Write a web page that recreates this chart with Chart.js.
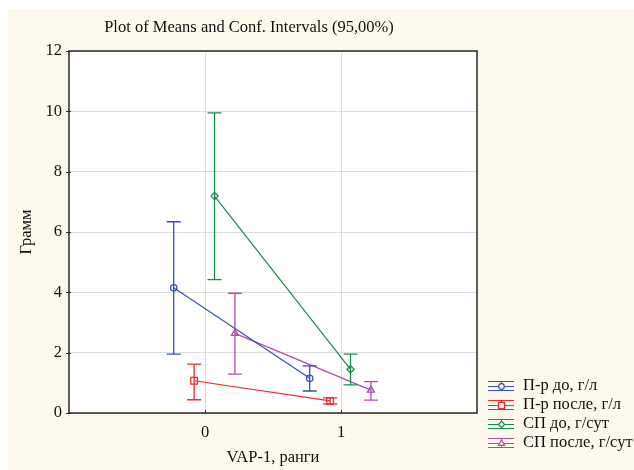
<!DOCTYPE html>
<html>
<head>
<meta charset="utf-8">
<script src="https://cdn.jsdelivr.net/npm/chart.js@4.4.0/dist/chart.umd.min.js"></script>
<style>
html, body { margin: 0; padding: 0; background: #fff; }
#wrap { width: 634px; height: 470px; }
</style>
</head>
<body>
<div id="wrap"><canvas id="c" width="634" height="470"></canvas></div>
<script>
// groups on the x axis (VAP-1, ранги)
const groups = [0, 1];
const xTicks = [0, 1];
const yTicks = [0, 2, 4, 6, 8, 10, 12];
const seriesNames = ['П-р до, г/л', 'П-р после, г/л', 'СП до, г/сут', 'СП после, г/сут'];

// means and 95% conf. limits per series
const prDoMean = [4.15, 1.15];
const prDoLow = [1.95, 0.73];
const prDoHigh = [6.34, 1.56];

const prPosleMean = [1.07, 0.40];
const prPosleLow = [0.44, 0.30];
const prPosleHigh = [1.62, 0.50];

const spDoMean = [7.19, 1.45];
const spDoLow = [4.42, 0.93];
const spDoHigh = [9.95, 1.95];

const spPosleMean = [2.64, 0.76];
const spPosleLow = [1.29, 0.43];
const spPosleHigh = [3.97, 1.04];

// look of each series
const colors = ['#3651b3', '#ee2b2b', '#178a4c', '#b34aa9'];
const markers = ['circle', 'rect', 'rectRot', 'triangle'];
const markerSize = [3.2, 4.7, 3.6, 4];
const dodge = [-0.23, -0.08, 0.07, 0.22];

const means = [prDoMean, prPosleMean, spDoMean, spPosleMean];
const lows = [prDoLow, prPosleLow, spDoLow, spPosleLow];
const highs = [prDoHigh, prPosleHigh, spDoHigh, spPosleHigh];

const FONT = "'Liberation Serif', 'Times New Roman', serif";
const FS = 16.5;
Chart.defaults.font.family = FONT;
Chart.defaults.color = '#111';

const datasets = seriesNames.map((name, i) => ({
  label: name,
  data: groups.map((g, j) => ({ x: g + dodge[i], y: means[i][j] })),
  showLine: true,
  borderColor: colors[i],
  borderWidth: 1.2,
  pointStyle: markers[i],
  pointRadius: markerSize[i],
  pointBorderWidth: 1.3,
  pointBorderColor: colors[i],
  pointBackgroundColor: 'rgba(255,255,255,0)',
  pointHoverRadius: markerSize[i]
}));

// cream page + white plot area
const backdrop = {
  id: 'backdrop',
  beforeDraw(chart) {
    const { ctx, chartArea: a } = chart;
    ctx.save();
    ctx.fillStyle = '#ffffff';
    ctx.fillRect(0, 0, chart.width, chart.height);
    ctx.fillStyle = '#fdf8ec';
    ctx.fillRect(8, 9, chart.width - 8, chart.height - 9);
    ctx.fillStyle = '#ffffff';
    ctx.fillRect(a.left, a.top, a.right - a.left, a.bottom - a.top);
    ctx.restore();
  }
};

// error bars, frame, title, legend
const extras = {
  id: 'extras',
  afterDatasetsDraw(chart) {
    const { ctx, scales: { x, y } } = chart;
    ctx.save();
    ctx.lineWidth = 1.3;
    means.forEach((m, i) => {
      ctx.strokeStyle = colors[i];
      groups.forEach((g, j) => {
        const px = x.getPixelForValue(g + dodge[i]);
        const lo = y.getPixelForValue(lows[i][j]);
        const hi = y.getPixelForValue(highs[i][j]);
        ctx.beginPath();
        ctx.moveTo(px, lo); ctx.lineTo(px, hi);
        ctx.moveTo(px - 7, lo); ctx.lineTo(px + 7, lo);
        ctx.moveTo(px - 7, hi); ctx.lineTo(px + 7, hi);
        ctx.stroke();
      });
    });
    ctx.restore();
  },
  afterDraw(chart) {
    const { ctx, chartArea: a, scales: { x, y } } = chart;
    ctx.save();
    // frame
    ctx.strokeStyle = '#2a2a2a';
    ctx.lineWidth = 1.5;
    ctx.strokeRect(a.left, a.top, a.right - a.left, a.bottom - a.top);
    // small tick marks
    ctx.lineWidth = 1;
    ctx.beginPath();
    yTicks.forEach(v => {
      const py = Math.round(y.getPixelForValue(v)) + 0.5;
      ctx.moveTo(a.left - 3, py); ctx.lineTo(a.left + 2, py);
    });
    xTicks.forEach(v => {
      const px = Math.round(x.getPixelForValue(v)) + 0.5;
      ctx.moveTo(px, a.bottom + 1); ctx.lineTo(px, a.bottom - 3);
    });
    ctx.stroke();

    // title
    ctx.fillStyle = '#111';
    ctx.font = FS + 'px ' + FONT;
    ctx.textAlign = 'center';
    ctx.textBaseline = 'middle';
    ctx.fillText('Plot of Means and Conf. Intervals (95,00%)', 249, 28);

    // legend
    ctx.textAlign = 'left';
    seriesNames.forEach((name, i) => {
      const cy = 386 + i * 19;
      const cx = 501;
      ctx.strokeStyle = colors[i];
      ctx.lineWidth = 1;
      ctx.beginPath();
      ctx.moveTo(488, cy - 4.5); ctx.lineTo(514, cy - 4.5);
      ctx.moveTo(488, cy + 0.5); ctx.lineTo(514, cy + 0.5);
      ctx.moveTo(488, cy + 4.5); ctx.lineTo(514, cy + 4.5);
      ctx.moveTo(cx + 0.5, cy - 4.5); ctx.lineTo(cx + 0.5, cy + 4.5);
      ctx.stroke();
      ctx.fillStyle = '#fdf8ec';
      ctx.lineWidth = 1.2;
      Chart.helpers.drawPoint(ctx, {
        pointStyle: markers[i], radius: markerSize[i] - 0.4, rotation: 0,
        borderWidth: 1.2
      }, cx + 0.5, cy + 0.5);
      ctx.fillStyle = '#111';
      ctx.fillText(name, 523, cy);
    });
    ctx.restore();
  }
};

new Chart(document.getElementById('c'), {
  type: 'scatter',
  data: { datasets },
  options: {
    responsive: false,
    animation: false,
    layout: { padding: { top: 51, right: 157, left: 0, bottom: 0 } },
    plugins: { legend: { display: false }, tooltip: { enabled: false } },
    scales: {
      x: {
        type: 'linear', min: -1, max: 2,
        afterBuildTicks: s => { s.ticks = xTicks.map(v => ({ value: v })); },
        afterFit: s => { s.height = 57; },
        grid: { color: '#dedede', lineWidth: 1, drawTicks: false },
        border: { display: false },
        ticks: { font: { size: FS }, padding: 10, color: '#111' },
        title: { display: true, text: 'VAP-1, ранги', font: { size: FS }, padding: { top: 0, bottom: 2 }, color: '#111' }
      },
      y: {
        type: 'linear', min: 0, max: 12,
        afterBuildTicks: s => { s.ticks = yTicks.map(v => ({ value: v })); },
        afterFit: s => { s.width = 69; },
        grid: { color: '#dedede', lineWidth: 1, drawTicks: false },
        border: { display: false },
        ticks: { font: { size: FS }, padding: 7, color: '#111' },
        title: { display: true, text: 'Грамм', font: { size: FS }, padding: { top: 17, bottom: 0 }, color: '#111' }
      }
    }
  },
  plugins: [backdrop, extras]
});
</script>
</body>
</html>
